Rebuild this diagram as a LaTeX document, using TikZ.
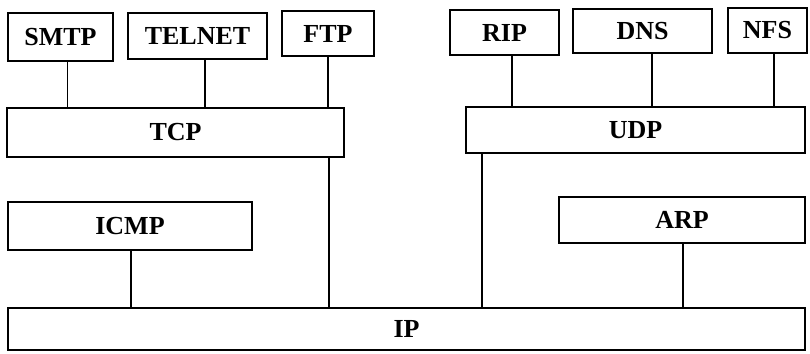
\documentclass[tikz,border=0pt]{standalone}
\usepackage{fontspec}
\setmainfont{Liberation Serif}
\begin{document}
\begin{tikzpicture}[x=1pt,y=-1pt,
  box/.style={draw, line width=1.2pt, rectangle, inner sep=0pt,
    font=\fontsize{26}{30}\selectfont\bfseries},
  link/.style={line width=1.2pt}]
\useasboundingbox (0,0) rectangle (810,353);
% application layer
\node[box, minimum width=105pt, minimum height=48pt] (smtp)   at (60.5,37)  {SMTP};
\node[box, minimum width=139pt, minimum height=46pt] (telnet) at (197.5,36) {TELNET};
\node[box, minimum width=92pt,  minimum height=45pt] (ftp)    at (328,33.5) {FTP};
\node[box, minimum width=109pt, minimum height=45pt] (rip)    at (504.5,32.5) {RIP};
\node[box, minimum width=139pt, minimum height=44pt] (dns)    at (642.5,31) {DNS};
\node[box, minimum width=79pt,  minimum height=45pt] (nfs)    at (767.5,30.5) {NFS};
% transport layer
\node[box, minimum width=337pt, minimum height=49pt] (tcp) at (175.5,132.5) {TCP};
\node[box, minimum width=339pt, minimum height=46pt] (udp) at (635.5,130)   {UDP};
% network layer helpers
\node[box, minimum width=244pt, minimum height=48pt] (icmp) at (130,226) {ICMP};
\node[box, minimum width=246pt, minimum height=46pt] (arp)  at (682,220) {ARP};
% internet layer
\node[box, minimum width=797pt, minimum height=42pt] (ip) at (406.5,329) {IP};
% connectors
\draw[link] ([xshift=7pt]smtp.south)     -- ([xshift=7pt]smtp.south |- tcp.north);
\draw[link] ([xshift=7.5pt]telnet.south) -- ([xshift=7.5pt]telnet.south |- tcp.north);
\draw[link] (ftp.south)                  -- (ftp.south |- tcp.north);
\draw[link] ([xshift=7.5pt]rip.south)    -- ([xshift=7.5pt]rip.south |- udp.north);
\draw[link] ([xshift=9.5pt]dns.south)    -- ([xshift=9.5pt]dns.south |- udp.north);
\draw[link] ([xshift=6.5pt]nfs.south)    -- ([xshift=6.5pt]nfs.south |- udp.north);
\draw[link] ([xshift=153.5pt]tcp.south)  -- ([xshift=153.5pt]tcp.south |- ip.north);
\draw[link] ([xshift=-153.5pt]udp.south) -- ([xshift=-153.5pt]udp.south |- ip.north);
\draw[link] ([xshift=1pt]icmp.south)     -- ([xshift=1pt]icmp.south |- ip.north);
\draw[link] ([xshift=1pt]arp.south)      -- ([xshift=1pt]arp.south |- ip.north);
\end{tikzpicture}
\end{document}
